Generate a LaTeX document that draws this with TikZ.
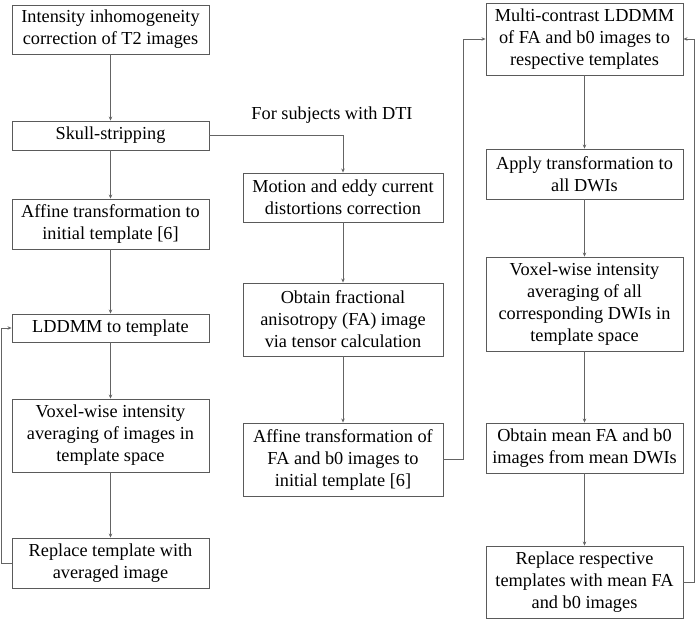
\documentclass[tikz,border=0pt]{standalone}
\usepackage{fontspec}
\setmainfont{Liberation Serif}
\usetikzlibrary{arrows.meta}
\definecolor{boxgray}{HTML}{5A5A5A}
\definecolor{linegray}{HTML}{646464}
\tikzset{
  stepbox/.style={draw=boxgray, line width=0.9pt, align=center, inner sep=0pt,
    font=\fontsize{18.3}{22}\selectfont, text=black},
  conn/.style={draw=linegray, line width=0.9pt, -{Stealth[length=4pt,width=3.5pt]}},
}
\begin{document}
\begin{tikzpicture}[x=1pt,y=-1pt]
\useasboundingbox (0,0) rectangle (695,626);
% left column
\node[stepbox, minimum width=197pt, minimum height=49pt] (b1) at (110.5,29.5) {Intensity inhomogeneity\\correction of T2 images};
\node[stepbox, minimum width=197pt, minimum height=29pt] (skull) at (110.5,135.5) {Skull-stripping};
\node[stepbox, minimum width=197pt, minimum height=50pt] (aff) at (110.5,224) {Affine transformation to\\initial template [6]};
\node[stepbox, minimum width=197pt, minimum height=28pt] (ldd) at (110.5,328) {LDDMM to template};
\node[stepbox, minimum width=197pt, minimum height=73pt] (vox) at (110.5,435.5) {Voxel-wise intensity\\averaging of images in\\template space};
\node[stepbox, minimum width=197pt, minimum height=50pt] (rep) at (110.5,563) {Replace template with\\averaged image};
% middle column
\node[font=\fontsize{18.3}{22}\selectfont] (dti) at (332,115) {For subjects with DTI};
\node[stepbox, minimum width=200pt, minimum height=49pt] (mot) at (343,197.5) {Motion and eddy current\\distortions correction};
\node[stepbox, minimum width=200pt, minimum height=73pt] (fa) at (343,319.5) {Obtain fractional\\anisotropy (FA) image\\via tensor calculation};
\node[stepbox, minimum width=200pt, minimum height=73pt] (afffa) at (343,459.5) {Affine transformation of\\FA and b0 images to\\initial template [6]};
% right column
\node[stepbox, minimum width=197pt, minimum height=72pt] (multi) at (584.5,39) {Multi-contrast LDDMM\\of FA and b0 images to\\respective templates};
\node[stepbox, minimum width=197pt, minimum height=50pt] (apply) at (584.5,174) {Apply transformation to\\all DWIs};
\node[stepbox, minimum width=197pt, minimum height=94pt] (voxall) at (584.5,304) {Voxel-wise intensity\\averaging of all\\corresponding DWIs in\\template space};
\node[stepbox, minimum width=197pt, minimum height=50pt] (mean) at (584.5,448) {Obtain mean FA and b0\\images from mean DWIs};
\node[stepbox, minimum width=197pt, minimum height=72pt] (repr) at (584.5,582) {Replace respective\\templates with mean FA\\and b0 images};
% connectors left
\draw[conn] (b1) -- (skull);
\draw[conn] (skull) -- (aff);
\draw[conn] (aff) -- (ldd);
\draw[conn] (ldd) -- (vox);
\draw[conn] (vox) -- (rep);
\draw[conn] (rep.west) -- ++(-10,0) |- (ldd.west);
% middle
\draw[conn] (skull.east) -| (mot.north);
\draw[conn] (mot) -- (fa);
\draw[conn] (fa) -- (afffa);
\draw[conn] (afffa.east) -- ++(20,0) |- (multi.west);
% right
\draw[conn] (multi) -- (apply);
\draw[conn] (apply) -- (voxall);
\draw[conn] (voxall) -- (mean);
\draw[conn] (mean) -- (repr);
\draw[conn] (repr.east) -- ++(10.5,0) |- (multi.east);
\end{tikzpicture}
\end{document}
